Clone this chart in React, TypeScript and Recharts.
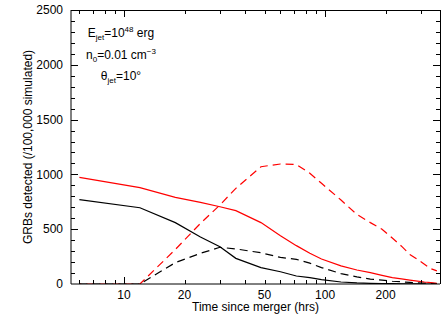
import React from 'react';
import { LineChart, Line, XAxis, YAxis } from 'recharts';

// hours since merger
const times = [6, 12, 18, 24, 30, 36, 48, 60, 72, 84, 96, 120, 144, 168, 192, 216, 240, 264, 288, 312, 336, 360];
const redSolid = [973, 879, 790, 745, 705, 669, 560, 440, 350, 280, 228, 165, 128, 103, 78, 58, 46, 36, 27, 18, 12, 5];
const blackSolid = [769, 696, 560, 429, 340, 234, 150, 112, 73, 58, 40, 18, 10, 6, 4, 3, 2, 1, 1, 0, 0, 0];
const redDashed = [0, 0, 315, 553, 721, 873, 1070, 1095, 1090, 1010, 919, 766, 635, 560, 500, 420, 345, 270, 225, 180, 140, 120];
const blackDashed = [0, 0, 195, 280, 335, 320, 285, 243, 225, 190, 150, 95, 65, 45, 35, 25, 20, 15, 10, 8, 5, 3];

const xLabelTicks = [10, 20, 50, 100, 200];
const xMajorTicks = [10, 100];
const xAllTicks = [6, 7, 8, 9, 10, 20, 30, 40, 50, 60, 70, 80, 90, 100, 200, 300];
const yLabelTicks = [0, 500, 1000, 1500, 2000, 2500];
const yInnerTicks = [100, 200, 300, 400, 500, 600, 700, 800, 900, 1000, 1100, 1200, 1300, 1400, 1500, 1600, 1700, 1800, 1900, 2000, 2100, 2200, 2300, 2400];

const data = times.map((t, i) => ({
  t,
  rs: redSolid[i],
  bs: blackSolid[i],
  rd: redDashed[i],
  bd: blackDashed[i],
}));

const xDomain = [5.45, 373];
const yDomain = [0, 2500];
const font = '"Liberation Sans", Arial, Helvetica, sans-serif';

// plot box (matches chart margins + axis sizes below)
const box = { left: 71, top: 10, right: 440, bottom: 284 };
const px = (v: number) =>
  box.left + ((box.right - box.left) * Math.log(v / xDomain[0])) / Math.log(xDomain[1] / xDomain[0]);
const py = (v: number) => box.bottom - ((box.bottom - box.top) * (v - yDomain[0])) / (yDomain[1] - yDomain[0]);

const YLabel = () => (
  <text x={28} y={147} transform="rotate(-90 28 147)" textAnchor="middle" dominantBaseline="central"
    fontSize={12} fill="#000" fontFamily={font}>
    GRBs detected (/100,000 simulated)
  </text>
);

const XLabel = () => (
  <text x={255.5} y={311} textAnchor="middle" fontSize={12} fill="#000" fontFamily={font}>
    Time since merger (hrs)
  </text>
);

const bar = (key: string, left: number, top: number, width: number, height: number) => (
  <div key={key} style={{ position: 'absolute', left, top, width, height, background: '#000' }} />
);

// frame with inward-pointing ticks on all four sides
const Frame = () => {
  const parts: React.ReactNode[] = [];
  parts.push(bar('top', box.left, box.top - 0.5, box.right - box.left, 1));
  parts.push(bar('right', box.right - 0.5, box.top, 1, box.bottom - box.top));
  xAllTicks.forEach((v) => {
    const len = xMajorTicks.includes(v) ? 7 : 4;
    const x = Math.round(px(v)) - 0.5;
    parts.push(bar('xb' + v, x, box.bottom - len, 1, len));
    parts.push(bar('xt' + v, x, box.top, 1, len));
  });
  yInnerTicks.forEach((v) => {
    const len = v % 500 === 0 ? 7 : 4;
    const y = Math.round(py(v)) - 0.5;
    parts.push(bar('yl' + v, box.left, y, len, 1));
    parts.push(bar('yr' + v, box.right - len, y, len, 1));
  });
  return <div style={{ position: 'absolute', left: 0, top: 0, width: 442, height: 315, pointerEvents: 'none' }}>{parts}</div>;
};

const App = () => {
  return (
    <div style={{ position: 'absolute', left: 0, top: 0, width: 442, height: 315, fontFamily: font }}>
      <LineChart width={442} height={315} data={data} margin={{ top: 10, right: 2, left: 0, bottom: 0 }}>
        <XAxis dataKey="t" type="number" scale="log" domain={xDomain} allowDataOverflow
          ticks={xLabelTicks} interval={0} height={31} tickLine={false} tickSize={6} tickMargin={0}
          axisLine={{ stroke: '#000' }} tick={{ fontSize: 12, fill: '#000', fontFamily: font }} label={<XLabel />} />
        <YAxis type="number" domain={yDomain} allowDataOverflow ticks={yLabelTicks} interval={0}
          width={71} tickLine={false} tickSize={6} tickMargin={2} axisLine={{ stroke: '#000' }}
          tick={{ fontSize: 12, fill: '#000', fontFamily: font }} label={<YLabel />} />

        <Line dataKey="rd" stroke="#ff0000" strokeWidth={1.2} strokeDasharray="8 5" strokeDashoffset={6} dot={false} isAnimationActive={false} />
        <Line dataKey="bd" stroke="#000" strokeWidth={1.2} strokeDasharray="8 5" dot={false} isAnimationActive={false} />
        <Line dataKey="rs" stroke="#ff0000" strokeWidth={1.2} dot={false} isAnimationActive={false} />
        <Line dataKey="bs" stroke="#000" strokeWidth={1.2} dot={false} isAnimationActive={false} />
      </LineChart>
      <Frame />
      <div style={{ position: 'absolute', left: 71, top: 26, width: 100, textAlign: 'center', fontSize: 12, lineHeight: '14px', color: '#000' }}>
        <div style={{ height: 22 }}>
          E<sub style={{ fontSize: 8, lineHeight: 0 }}>jet</sub>=10<sup style={{ fontSize: 8, lineHeight: 0 }}>48</sup> erg
        </div>
        <div style={{ height: 21 }}>
          n<sub style={{ fontSize: 8, lineHeight: 0 }}>0</sub>=0.01 cm<sup style={{ fontSize: 8, lineHeight: 0 }}>−3</sup>
        </div>
        <div>
          θ<sub style={{ fontSize: 8, lineHeight: 0 }}>jet</sub>=10°
        </div>
      </div>
    </div>
  );
};

export default App;
